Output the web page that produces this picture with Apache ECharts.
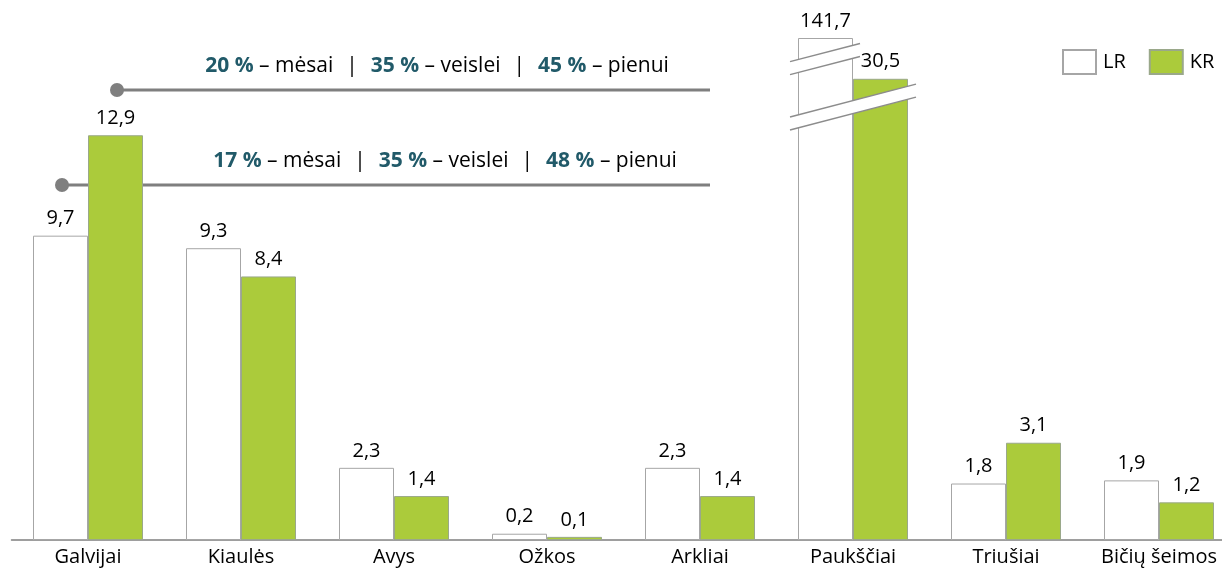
<!DOCTYPE html>
<html>
<head>
<meta charset="utf-8">
<script src="https://cdn.jsdelivr.net/npm/echarts@6/dist/echarts.min.js"></script>
<style>
  html, body { margin: 0; padding: 0; background: #fff; }
  #chart { width: 1222px; height: 572px; }
</style>
</head>
<body>
<div id="chart"></div>
<script>
var categories = ['Galvijai', 'Kiaulės', 'Avys', 'Ožkos', 'Arkliai', 'Paukščiai', 'Triušiai', 'Bičių šeimos'];
var lrValues = [9.7, 9.3, 2.3, 0.2, 2.3, 141.7, 1.8, 1.9];
var krValues = [12.9, 8.4, 1.4, 0.1, 1.4, 30.5, 3.1, 1.2];
// Paukščiai bars are cut (broken scale): heights they are drawn at
var brokenIndex = 5;
var lrBrokenHeight = 16.0;
var krBrokenHeight = 14.7;
// where the break marks sit on the broken bars (axis units)
var lrBreakAt = 15.33;
var krBreakAt = 13.8;

var FONT = 'Open Sans';
var GREEN = '#abcb3b';
var GREY = '#a6a6a6';
var TEAL = '#215a69';

function fmt (v) {
  return v.toFixed(1).replace('.', ',');
}

function barData (values, brokenHeight) {
  return values.map(function (v, i) {
    return { value: i === brokenIndex ? brokenHeight : v, real: v };
  });
}

var dom = echarts.init(document.getElementById('chart'));

function breakMark (params, api) {
  var barW = 55;
  var cx = api.coord([api.value(0), 0])[0];
  var y = api.coord([api.value(0), api.value(1)])[1];
  var x1 = cx - barW - 8;
  var x2 = api.value(2) === 0 ? cx + 7 : cx + barW + 8;
  var slope = -0.26;
  var mid = api.value(2) === 0 ? (x1 + x2) / 2 : cx;
  var gap = 6.5;
  var yA = function (x, off) { return y + off + (x - mid) * slope; };
  return {
    type: 'group',
    children: [
      {
        type: 'polygon',
        shape: { points: [[x1, yA(x1, -gap)], [x2, yA(x2, -gap)], [x2, yA(x2, gap)], [x1, yA(x1, gap)]] },
        style: { fill: '#fff' }
      },
      {
        type: 'line',
        shape: { x1: x1, y1: yA(x1, -gap), x2: x2, y2: yA(x2, -gap) },
        style: { stroke: '#8c8c8c', lineWidth: 1.5 }
      },
      {
        type: 'line',
        shape: { x1: x1, y1: yA(x1, gap), x2: x2, y2: yA(x2, gap) },
        style: { stroke: '#8c8c8c', lineWidth: 1.5 }
      }
    ]
  };
}

var labelOpt = {
  show: true,
  position: 'top',
  distance: 7,
  color: '#000',
  fontFamily: FONT,
  fontSize: 20,
  formatter: function (p) { return fmt(p.data.real); }
};

var richText = {
  b: { fontFamily: FONT, fontSize: 21, fontWeight: 'bold', fill: TEAL },
  n: { fontFamily: FONT, fontSize: 21, fill: '#000' },
  p: { fontFamily: FONT, fontSize: 21, fill: '#000', padding: [0, 13] }
};

var option = {
  animation: false,
  grid: { left: 11.5, width: 1224, top: 38, bottom: 32, containLabel: false, outerBoundsMode: 'none' },
  legend: {
    data: ['LR', 'KR'],
    left: 1057,
    top: 44,
    itemWidth: 33,
    itemHeight: 24,
    itemGap: 23,
    icon: 'rect',
    textStyle: { fontFamily: FONT, fontSize: 20, color: '#000', padding: [0, 0, 0, 2] }
  },
  xAxis: {
    type: 'category',
    data: categories,
    axisTick: { show: false },
    axisLine: { lineStyle: { color: '#7f7f7f', width: 1.5 } },
    axisLabel: { fontFamily: FONT, fontSize: 20, color: '#000', margin: 7 }
  },
  yAxis: {
    type: 'value',
    min: 0,
    max: 16,
    show: false,
    splitLine: { show: false }
  },
  series: [
    {
      name: 'LR',
      type: 'bar',
      barWidth: 55,
      barGap: '0%',
      data: barData(lrValues, lrBrokenHeight),
      itemStyle: { color: '#fff', borderColor: GREY, borderWidth: 1 },
      label: labelOpt
    },
    {
      name: 'KR',
      type: 'bar',
      barWidth: 55,
      barGap: '0%',
      data: barData(krValues, krBrokenHeight),
      itemStyle: { color: GREEN, borderColor: '#9aa88a', borderWidth: 1 },
      label: labelOpt
    },
    {
      name: 'break',
      type: 'custom',
      z: 5,
      silent: true,
      renderItem: breakMark,
      data: [[brokenIndex, lrBreakAt, 0], [brokenIndex, krBreakAt, 1]]
    }
  ],
  graphic: [
    { type: 'line', shape: { x1: 117, y1: 90, x2: 710, y2: 90 }, style: { stroke: '#7f7f7f', lineWidth: 3 } },
    { type: 'circle', shape: { cx: 117, cy: 90, r: 7 }, style: { fill: '#7f7f7f' } },
    { type: 'line', shape: { x1: 62, y1: 185, x2: 710, y2: 185 }, style: { stroke: '#7f7f7f', lineWidth: 3 } },
    { type: 'circle', shape: { cx: 62, cy: 185, r: 7 }, style: { fill: '#7f7f7f' } },
    {
      type: 'text', x: 437, y: 66,
      style: {
        text: '{b|20 %}{n| – mėsai}{p||}{b|35 %}{n| – veislei}{p||}{b|45 %}{n| – pienui}',
        rich: richText, align: 'center', verticalAlign: 'middle'
      }
    },
    {
      type: 'text', x: 445, y: 161,
      style: {
        text: '{b|17 %}{n| – mėsai}{p||}{b|35 %}{n| – veislei}{p||}{b|48 %}{n| – pienui}',
        rich: richText, align: 'center', verticalAlign: 'middle'
      }
    }
  ]
};

dom.setOption(option);
window.addEventListener('resize', function () { dom.resize(); });
</script>
</body>
</html>
